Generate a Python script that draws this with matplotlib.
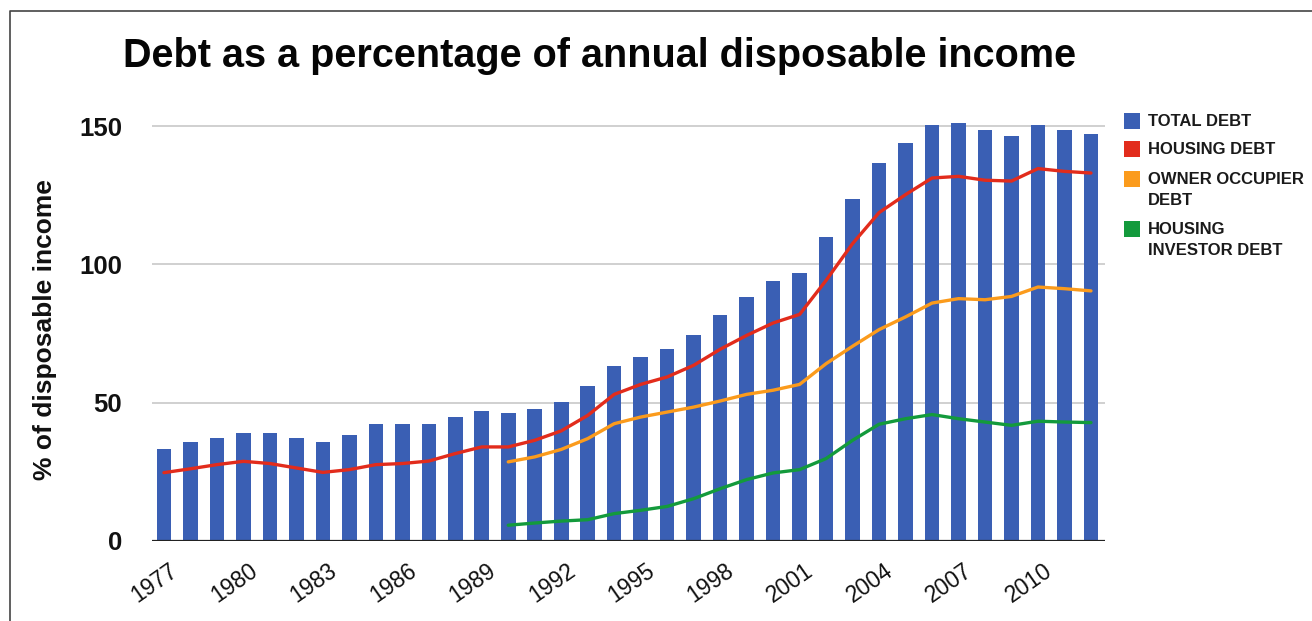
import matplotlib
matplotlib.use("Agg")
import matplotlib.pyplot as plt
import matplotlib.transforms as mtransforms
from matplotlib.lines import Line2D
from matplotlib.patches import Rectangle

plt.rcParams['font.family'] = ['Liberation Sans', 'DejaVu Sans']

# Debt series, % of annual disposable income
years = list(range(1977, 2013))
total_debt = [33.4, 35.8, 37.3, 39.0, 39.0, 37.3, 35.8, 38.3, 42.3, 42.3,
              42.3, 44.7, 47.0, 46.3, 47.8, 50.2, 56.0, 63.1, 66.4, 69.5,
              74.3, 81.8, 88.2, 93.9, 97.0, 109.9, 123.6, 136.6, 143.9, 150.2,
              151.1, 148.6, 146.3, 150.2, 148.6, 147.1]
housing_debt = [24.7, 26.1, 27.6, 28.8, 28.0, 26.4, 24.8, 25.8, 27.6, 28.0,
                28.9, 31.6, 34.0, 34.0, 36.4, 39.8, 45.4, 53.0, 56.6, 59.3,
                63.5, 69.3, 74.3, 78.8, 81.9, 94.2, 107.5, 118.7, 125.2, 131.2,
                131.8, 130.4, 130.1, 134.6, 133.6, 133.0]
# owner occupier / investor split starts in 1990
split_years = list(range(1990, 2013))
owner_occupier_debt = [28.6, 30.4, 33.1, 37.0, 42.4, 44.8, 46.6, 48.4, 50.6, 53.0,
                       54.5, 56.6, 64.1, 70.4, 76.4, 81.0, 86.0, 87.6, 87.2, 88.4,
                       91.8, 91.2, 90.4]
investor_debt = [5.7, 6.5, 7.2, 7.7, 9.9, 11.1, 12.5, 15.3, 18.9, 22.2,
                 24.6, 25.8, 29.8, 36.4, 42.2, 44.2, 45.7, 44.2, 43.0, 41.8,
                 43.3, 43.0, 42.8]

tick_years = list(range(1977, 2011, 3))
series_names = ["TOTAL DEBT", "HOUSING DEBT", "OWNER OCCUPIER\nDEBT", "HOUSING\nINVESTOR DEBT"]

BLUE = "#3a5fb4"
RED = "#e22c1c"
ORANGE = "#fb9b1c"
GREEN = "#139a3c"

W, H = 1312, 621
fig = plt.figure(figsize=(W / 100, H / 100), dpi=100)
fig.patch.set_facecolor("white")
ax = fig.add_axes([152 / W, 80 / H, 953 / W, 423.3 / H])

xi = list(range(len(years)))
si = [years.index(y) for y in split_years]

ax.bar(xi, total_debt, width=0.55, color=BLUE, zorder=2)
ax.plot(xi, housing_debt, color=RED, lw=2.4, zorder=3, solid_capstyle="round")
ax.plot(si, owner_occupier_debt, color=ORANGE, lw=2.4, zorder=3, solid_capstyle="round")
ax.plot(si, investor_debt, color=GREEN, lw=2.4, zorder=3, solid_capstyle="round")

ax.set_xlim(-0.45, 35.53)
ax.set_ylim(0, 153)
ax.set_yticks([0, 50, 100, 150])
ax.set_yticklabels(["0", "50", "100", "150"], fontsize=18.5, fontweight="bold", color="#111111")
ax.yaxis.grid(True, color="#c8c8c8", lw=1.2, zorder=0)
ax.set_axisbelow(True)
ax.axhline(0, color="#222222", lw=1.6, zorder=4)
for s in ax.spines.values():
    s.set_visible(False)
ax.tick_params(axis="both", length=0)
ax.tick_params(axis="y", pad=21.5)

ax.set_xticks([years.index(y) for y in tick_years])
ax.set_xticklabels([str(y) for y in tick_years], fontsize=16.5, rotation=35,
                   ha="right", va="top", rotation_mode="anchor", color="#111111")
ax.tick_params(axis="x", pad=13)
shift = mtransforms.ScaledTranslation(5 / 100, 0, fig.dpi_scale_trans)
for lbl in ax.get_xticklabels():
    lbl.set_transform(lbl.get_transform() + shift)

ax.set_ylabel("% of disposable income", fontsize=19, fontweight="bold", color="#111111")
ax.yaxis.set_label_coords(57 / W, (621 - 330) / H, transform=fig.transFigure)

fig.text(600 / W, 1 - 56 / H, "Debt as a percentage of annual disposable income",
         ha="center", va="center", fontsize=28.5, fontweight="bold", color="#050505")

# legend: colour squares with bold uppercase labels
legend_rows = [121, 149, 179, 229]
for name, color, yc in zip(series_names, [BLUE, RED, ORANGE, GREEN], legend_rows):
    fig.patches.append(Rectangle((1124 / W, (H - yc - 8) / H), 16 / W, 16 / H,
                                 transform=fig.transFigure, facecolor=color,
                                 edgecolor="none"))
    fig.text(1148 / W, (H - yc + 7) / H, name, ha="left", va="top",
             fontsize=12, fontweight="bold", color="#1a1a1a", linespacing=1.5)

# page frame (top and left edges)
fig.add_artist(Line2D([9.5 / W, 9.5 / W, 1], [0, 1 - 10.5 / H, 1 - 10.5 / H],
                      transform=fig.transFigure, color="#444444", lw=1.2))

fig.savefig("out.png", dpi=100)
